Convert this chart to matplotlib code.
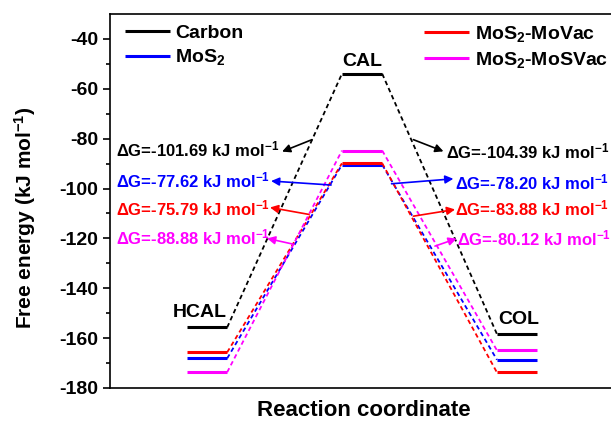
import numpy as np
import matplotlib.pyplot as plt

# Free energy profile HCAL -> CAL -> COL on four catalysts

plt.rcParams['font.family'] = 'Liberation Sans'
plt.rcParams['font.weight'] = 'bold'
plt.rcParams['axes.labelweight'] = 'bold'
plt.rcParams['axes.unicode_minus'] = False
plt.rcParams['mathtext.fontset'] = 'custom'
plt.rcParams['mathtext.rm'] = 'Liberation Sans:bold'
plt.rcParams['mathtext.it'] = 'Liberation Sans:bold'
plt.rcParams['mathtext.bf'] = 'Liberation Sans:bold'
plt.rcParams['mathtext.default'] = 'rm'

# Data
states = ["HCAL", "CAL", "COL"]
series = ["Carbon", "MoS$_2$", "MoS$_2$-MoVac", "MoS$_2$-MoSVac"]
colors = ["black", "blue", "red", "magenta"]
carbon = [-155.69, -54.00, -158.39]
mos2 = [-168.12, -90.50, -168.70]
movac = [-165.69, -89.90, -173.78]
mosvac = [-173.68, -84.80, -164.92]
energies = [carbon, mos2, movac, mosvac]

# dG labels: text, text position, arrow tail (on dashed line), arrow head
dg_text = ["-101.69", "-77.62", "-75.79", "-88.88",
           "-104.39", "-78.20", "-83.88", "-80.12"]
dg_color = colors + colors
dg_text_xy = [(0.41, -84.4), (0.41, -96.8), (0.41, -108.0), (0.41, -119.6),
              (2.54, -85.0), (2.60, -97.5), (2.60, -108.1), (2.61, -120.1)]
dg_tail = [(1.677, -80.4), (1.80, -98.6), (1.658, -110.4), (1.561, -122.4),
           (2.331, -80.4), (2.19, -98.1), (2.331, -111.1), (2.47, -123.1)]
dg_head = [(1.484, -85.2), (1.413, -97.0), (1.406, -107.6), (1.387, -120.0),
           (2.525, -85.1), (2.589, -96.1), (2.60, -108.4), (2.61, -120.1)]

fig = plt.figure(figsize=(6.11, 4.24), dpi=100)
ax = fig.add_axes([0.18, 0.085, 0.83, 0.882])

xpos = np.array([1, 2, 3])
half = 0.13

lines = []
for E, c, name in zip(energies, colors, series):
    for i in range(3):
        l, = ax.plot([xpos[i] - half, xpos[i] + half], [E[i], E[i]], color=c, lw=2.2,
                     solid_capstyle='butt')
        if i == 0:
            l.set_label(name)
            lines.append(l)
    for i in range(2):
        ax.plot([xpos[i] + half, xpos[i + 1] - half], [E[i], E[i + 1]], color=c, lw=1.3,
                ls=(0, (2.5, 1.8)))

# state labels above carbon levels
ax.text(0.95, carbon[0] + 4, states[0], ha='center', va='baseline', fontsize=14)
ax.text(2.0, carbon[1] + 3, states[1], ha='center', va='baseline', fontsize=14)
ax.text(3.01, carbon[2] + 4, states[2], ha='center', va='baseline', fontsize=14)

for t, c, txy, tail, head in zip(dg_text, dg_color, dg_text_xy, dg_tail, dg_head):
    ax.annotate("", xy=head, xytext=tail,
                arrowprops=dict(arrowstyle='-|>', color=c, lw=1.2, mutation_scale=12,
                                shrinkA=0, shrinkB=0))
    ax.text(txy[0], txy[1], "ΔG=" + t + " kJ mol$^{-1}$", color=c, fontsize=12,
            ha='left', va='center')

leg1 = ax.legend(handles=lines[:2], loc='upper left', bbox_to_anchor=(-0.005, 1.02),
                 frameon=False, fontsize=14, handlelength=2.3, handletextpad=0.3,
                 labelspacing=0.3)
ax.add_artist(leg1)
ax.legend(handles=lines[2:], loc='upper left', bbox_to_anchor=(0.585, 1.02),
          frameon=False, fontsize=14, handlelength=2.3, handletextpad=0.3,
          labelspacing=0.3)

ax.set_xlim(0.374, 3.645)
ax.set_ylim(-180, -30)
ax.set_yticks(np.arange(-180, -39, 20))
ax.set_yticks(np.arange(-170, -30, 20), minor=True)
ax.set_xticks([])
ax.tick_params(axis='y', which='major', labelsize=14, direction='out', length=5, width=1.2)
ax.tick_params(axis='y', which='minor', direction='out', length=3, width=1.2)
for lab in ax.get_yticklabels():
    lab.set_fontweight('bold')
for s in ax.spines.values():
    s.set_linewidth(1.2)

ax.set_xlabel("Reaction coordinate", fontsize=16, labelpad=9)
ax.set_ylabel("Free energy (kJ mol$^{-1}$)", fontsize=15)
ax.yaxis.set_label_coords(-0.142, 0.455)

fig.savefig("out.png", dpi=100)
